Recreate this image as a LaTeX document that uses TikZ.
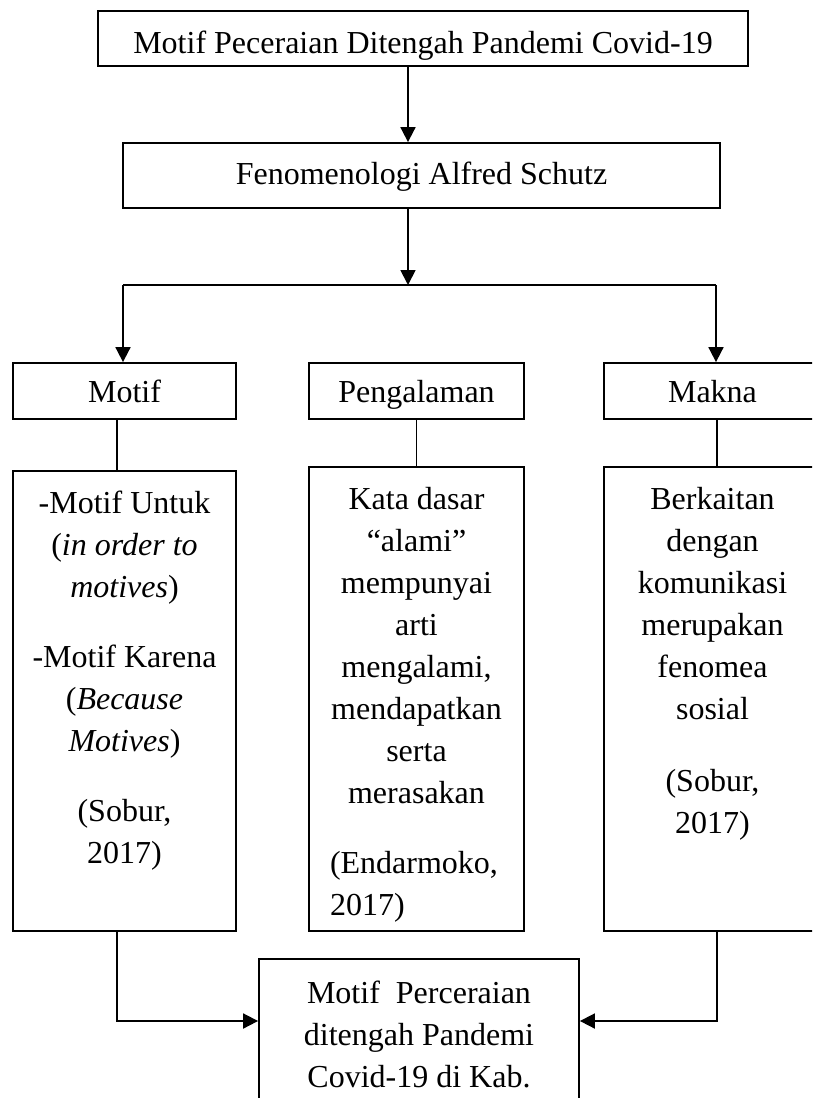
\documentclass[tikz,border=0pt]{standalone}
\usepackage{fontspec}
\setmainfont{Liberation Serif}
\usetikzlibrary{arrows.meta}
\tikzset{
	kotak/.style={draw, rectangle, inner sep=0pt, text height=22pt, text depth=0pt},
	panah/.style={-{Triangle[length=15pt,width=15pt]}}
}
\newcommand{\isiteks}[3]{\parbox[c][#2][t]{#1}{\centering\vspace*{20pt}#3}}

\begin{document}
\begin{tikzpicture}[x=1pt, y=-1pt, line width=1.8pt, font=\fontsize{32}{42}\selectfont]
	%%%%% START %%%%%
	\useasboundingbox (0,0) rectangle (812,1098);
	\clip (0,0) rectangle (812,1098);

	\node[kotak, minimum width=650pt, minimum height=55pt, text height=29pt] (judul) at (423,38.5) {Motif Peceraian Ditengah Pandemi Covid-19};
	\node[kotak, minimum width=597pt, minimum height=65pt, text height=17pt] (teori) at (421.5,175.5) {Fenomenologi Alfred Schutz};

	\node[kotak, minimum width=223pt, minimum height=56pt] (motif) at (124.5,391) {Motif};
	\node[kotak, minimum width=215pt, minimum height=56pt] (pengalaman) at (416.5,391) {Pengalaman};
	\node[kotak, minimum width=217pt, minimum height=56pt] (makna) at (712.5,391) {Makna};

	\node[draw, inner sep=0pt] (motifisi) at (124.5,701) {\isiteks{223pt}{460pt}{%
		-Motif Untuk\\ (\textit{in order to}\\ \textit{motives})\\[28pt]
		-Motif Karena\\ (\textit{Because}\\ \textit{Motives})\\[28pt]
		(Sobur,\\ 2017)}};
	\node[draw, inner sep=0pt] (pengalamanisi) at (416.5,699) {\isiteks{215pt}{464pt}{%
		Kata dasar\\ “alami”\\ mempunyai\\ arti\\ mengalami,\\ mendapatkan\\ serta\\ merasakan\\[28pt]
		\makebox[\linewidth][l]{\hspace{21pt}(Endarmoko,}\\ \makebox[\linewidth][l]{\hspace{21pt}2017)}}};
	\node[draw, inner sep=0pt] (maknaisi) at (712.5,699) {\isiteks{217pt}{464pt}{%
		Berkaitan\\ dengan\\ komunikasi\\ merupakan\\ fenomea\\ sosial\\[30pt]
		(Sobur,\\ 2017)}};

	\node[draw, inner sep=0pt, minimum width=320pt, minimum height=151pt, align=center] (hasil) at (419,1034.5) {Motif\ \ Perceraian\\ ditengah Pandemi\\ Covid-19 di Kab.};

	\draw[panah] ([xshift=-15pt]judul.south) -- ([xshift=-15pt]judul.south |- teori.north);

	\coordinate (kiri) at (123,285);
	\coordinate (kanan) at (716,285);
	\draw[panah] ([xshift=-13.5pt]teori.south) -- ([xshift=-13.5pt]teori.south |- kiri);
	\draw (kiri) -- (kanan);
	\draw[panah] (kiri) -- (kiri |- motif.north);
	\draw[panah] (kanan) -- (kanan |- makna.north);

	\draw ([xshift=-7.5pt]motif.south) -- ([xshift=-7.5pt]motif.south |- motifisi.north);
	\draw (pengalaman.south) -- (pengalaman.south |- pengalamanisi.north);
	\draw ([xshift=4.5pt]makna.south) -- ([xshift=4.5pt]makna.south |- maknaisi.north);

	\draw[panah] ([xshift=-7.5pt]motifisi.south) |- ([yshift=13.5pt]hasil.west);
	\draw[panah] ([xshift=4.5pt]maknaisi.south) |- ([yshift=13.5pt]hasil.east);
	%%%%% END %%%%%
\end{tikzpicture}
\end{document}
